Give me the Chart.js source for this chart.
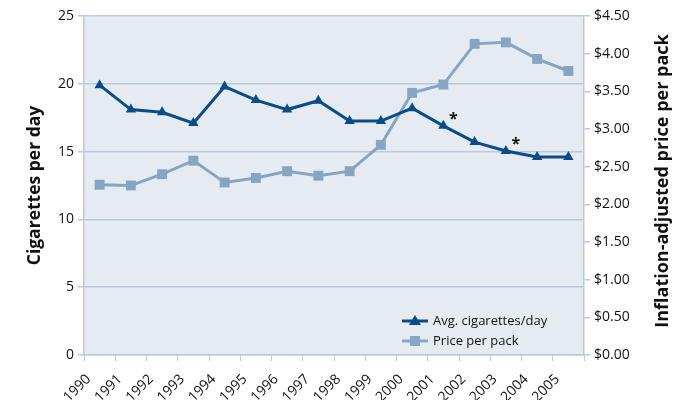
<!DOCTYPE html>
<html>
<head>
<meta charset="utf-8">
<script src="https://cdn.jsdelivr.net/npm/chart.js@4.4.1/dist/chart.umd.min.js"></script>
<style>
  html, body { margin: 0; padding: 0; background: #fff; }
</style>
</head>
<body>
<canvas id="chart" width="685" height="400"></canvas>
<script>
// values
const years = ['1990', '1991', '1992', '1993', '1994', '1995', '1996', '1997',
               '1998', '1999', '2000', '2001', '2002', '2003', '2004', '2005'];
const cigarettes = [19.9, 18.1, 17.9, 17.1, 19.8, 18.8, 18.1, 18.75,
                    17.25, 17.25, 18.2, 16.9, 15.7, 15.05, 14.6, 14.6];
const price = [2.26, 2.25, 2.40, 2.58, 2.29, 2.35, 2.44, 2.38,
               2.44, 2.79, 3.48, 3.59, 4.13, 4.15, 3.93, 3.77];
const flagged = ['2001', '2003'];

const dark = '#0a4c86';
const light = '#86a5c3';
const gridColor = '#b9cadb';
const font = "'Open Sans', 'Noto Sans', sans-serif";

const extras = {
  id: 'extras',
  beforeDraw(chart) {
    const { ctx, chartArea: a } = chart;
    ctx.save();
    ctx.fillStyle = '#e6ebf2';
    ctx.fillRect(a.left, a.top, a.right - a.left, a.bottom - a.top);
    ctx.restore();
  },
  afterDatasetsDraw(chart) {
    const { ctx } = chart;
    const meta = chart.getDatasetMeta(0);
    ctx.save();
    ctx.fillStyle = '#111';
    ctx.font = 'bold 16px ' + font;
    ctx.textAlign = 'center';
    ctx.textBaseline = 'middle';
    flagged.forEach(y => {
      const p = meta.data[years.indexOf(y)];
      ctx.fillText('*', p.x + 10, p.y - 6);
    });
    ctx.restore();
  },
  afterDraw(chart) {
    const { ctx } = chart;
    ctx.save();
    // right axis title, reading bottom to top
    ctx.fillStyle = '#111';
    ctx.font = 'bold 18px ' + font;
    ctx.textAlign = 'center';
    ctx.textBaseline = 'middle';
    ctx.translate(663, 181);
    ctx.rotate(-Math.PI / 2);
    ctx.fillText('Inflation-adjusted price per pack', 0, 0);
    ctx.restore();

    // legend in lower right of the plot
    ctx.save();
    ctx.font = '13px ' + font;
    ctx.textBaseline = 'middle';
    chart.data.datasets.forEach((ds, i) => {
      const y = 321 + i * 20;
      const x0 = 402;
      ctx.strokeStyle = ds.borderColor;
      ctx.lineWidth = 3;
      ctx.beginPath();
      ctx.moveTo(x0, y);
      ctx.lineTo(x0 + 26, y);
      ctx.stroke();
      ctx.fillStyle = ds.pointBackgroundColor;
      ctx.beginPath();
      if (ds.pointStyle === 'triangle') {
        ctx.moveTo(x0 + 13, y - 6);
        ctx.lineTo(x0 + 19, y + 4);
        ctx.lineTo(x0 + 7, y + 4);
      } else {
        ctx.rect(x0 + 8, y - 5, 10, 10);
      }
      ctx.fill();
      ctx.fillStyle = '#111';
      ctx.fillText(ds.label, x0 + 31, y);
    });
    ctx.restore();
  }
};

new Chart(document.getElementById('chart'), {
  type: 'line',
  data: {
    labels: years,
    datasets: [{
      label: 'Avg. cigarettes/day',
      data: cigarettes,
      yAxisID: 'y',
      borderColor: dark,
      backgroundColor: dark,
      pointBackgroundColor: dark,
      pointBorderColor: dark,
      borderWidth: 3,
      pointStyle: 'triangle',
      pointRadius: 6,
      pointBorderWidth: 0,
      tension: 0
    }, {
      label: 'Price per pack',
      data: price,
      yAxisID: 'y1',
      borderColor: light,
      backgroundColor: light,
      pointBackgroundColor: light,
      pointBorderColor: light,
      borderWidth: 3,
      pointStyle: 'rect',
      pointRadius: 7,
      pointBorderWidth: 0,
      tension: 0
    }]
  },
  options: {
    responsive: false,
    animation: false,
    layout: { padding: { top: 16, left: 0, right: 0, bottom: 0 } },
    plugins: {
      legend: { display: false },
      tooltip: { enabled: false }
    },
    scales: {
      x: {
        offset: true,
        grid: { display: true, drawOnChartArea: false, offset: true, color: gridColor, tickLength: 6 },
        border: { color: gridColor, width: 1.5 },
        ticks: {
          color: '#111',
          font: { family: font, size: 14 },
          minRotation: 45,
          maxRotation: 45,
          labelOffset: -11,
          padding: 10,
          autoSkip: false
        },
        afterFit(scale) { scale.height = 45; }
      },
      y: {
        position: 'left',
        min: 0,
        max: 25,
        ticks: { stepSize: 5, color: '#111', font: { family: font, size: 14 }, padding: 4 },
        grid: { color: gridColor, lineWidth: 1.5, tickLength: 6 },
        border: { color: gridColor, width: 1.5 },
        title: {
          display: true,
          text: 'Cigarettes per day',
          color: '#111',
          font: { family: font, size: 17.5, weight: 'bold' },
          padding: { top: 25, bottom: 0 }
        },
        afterFit(scale) { scale.width = 84; }
      },
      y1: {
        position: 'right',
        min: 0,
        max: 4.5,
        ticks: {
          stepSize: 0.5,
          color: '#111',
          font: { family: font, size: 14 },
          padding: 4,
          callback: v => '$' + Number(v).toFixed(2)
        },
        grid: { drawOnChartArea: false, color: gridColor, lineWidth: 1.5, tickLength: 6 },
        border: { color: gridColor, width: 1.5 },
        afterFit(scale) { scale.width = 101; }
      }
    }
  },
  plugins: [extras]
});
</script>
</body>
</html>
